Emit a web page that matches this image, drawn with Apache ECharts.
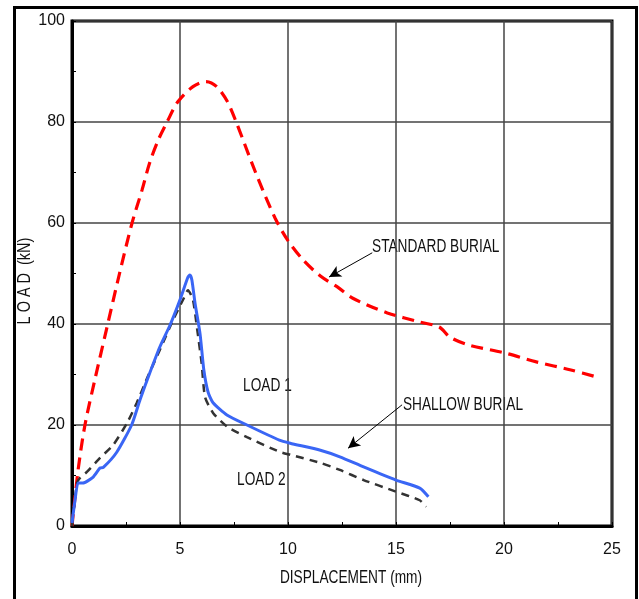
<!DOCTYPE html>
<html>
<head>
<meta charset="utf-8">
<script src="https://cdn.jsdelivr.net/npm/echarts@6/dist/echarts.min.js"></script>
<style>html,body{margin:0;padding:0;background:#fff}#c{width:639px;height:599px}</style>
</head>
<body>
<div id="c"></div>
<script>
// ---- data (displacement mm, load kN) ----
const xTicks = [0, 5, 10, 15, 20, 25];
const yTicks = [0, 20, 40, 60, 80, 100];

const standardX = [0, 0.28, 0.6, 1.06, 1.6, 2.2, 2.78, 3.24, 3.6, 4.0, 4.4, 4.9, 5.6, 6.2, 6.7, 7.2, 7.6, 8.5, 9.4, 10.0, 10.7, 11.5, 12.3, 13.0, 14.6, 16.1, 17.0, 17.5, 18.4, 20.0, 21.5, 23.1, 24.3];
const standardY = [0, 11, 20, 29, 39, 50, 60, 66.5, 72, 76.5, 80, 84, 87, 88, 87, 84, 80, 70, 61, 56.5, 52.7, 49.5, 47.3, 45.1, 42.2, 40.4, 39.4, 37.4, 35.8, 34.3, 32.5, 30.9, 29.5];

const load1X = [0, 0.14, 0.28, 0.5, 0.98, 1.3, 1.45, 2.07, 2.76, 3.15, 3.6, 4.07, 4.54, 5.0, 5.37, 5.46, 5.55, 5.7, 5.93, 6.1, 6.3, 6.53, 7.17, 8.1, 9.6, 10.1, 11.5, 12.4, 13.5, 15.0, 16.1, 16.5];
const load1Y = [0.6, 5.1, 8.5, 8.5, 9.7, 11.5, 11.6, 14.6, 20, 25, 30.3, 35.5, 39.8, 44.8, 49.3, 49.7, 48.7, 44, 38, 31, 26.5, 24.4, 22, 20, 17, 16.4, 15, 13.7, 11.7, 9.1, 7.5, 5.8];

const load2X = [0, 0.23, 0.37, 0.69, 1.3, 1.9, 2.55, 3.0, 3.5, 4.07, 4.68, 5.14, 5.37, 5.6, 5.8, 6.0, 6.16, 6.53, 7.2, 8.1, 9.6, 10.1, 11.5, 12.4, 13.5, 15.0, 16.1, 16.4];
const load2Y = [0, 8.5, 9.5, 10.7, 13.5, 16, 20.4, 24.4, 29.5, 34.9, 40.8, 44.8, 46.7, 44.8, 38.8, 32.3, 25.5, 22.4, 19.6, 17.6, 14.7, 14.1, 12.5, 11.1, 9.1, 6.8, 5.1, 3.8];

// annotation labels and arrows (data coordinates)
const labelTexts = ['STANDARD BURIAL', 'SHALLOW BURIAL', 'LOAD 1', 'LOAD 2'];
const labelAt = [[13.89, 55.2], [15.32, 24.0], [7.92, 27.7], [7.64, 9.1]];
const arrowFrom = [[13.9, 54.1], [15.28, 24.0]];
const arrowTo = [[11.9, 49.3], [12.78, 15.4]];
const xName = 'DISPLACEMENT (mm)';
const yName = 'L O A D  (kN)';

const FONT = '"Liberation Sans", Arial, Helvetica, sans-serif';
const NARROW = 0.76;
const zip = (a, b) => a.map((v, i) => [v, b[i]]);

const chart = echarts.init(document.getElementById('c'), null, {renderer: 'canvas'});

const option = {
  animation: false,
  backgroundColor: '#fff',
  grid: {left: 72, top: 21, width: 540, height: 505, show: true, borderColor: '#000', borderWidth: 3, backgroundColor: 'transparent'},
  xAxis: {
    type: 'value', min: xTicks[0], max: xTicks[xTicks.length - 1], interval: 5,
    axisLine: {lineStyle: {color: '#000', width: 3}},
    axisTick: {show: true, inside: true, length: 4, lineStyle: {color: '#000', width: 1}},
    minorTick: {show: true, splitNumber: 2, length: 4, lineStyle: {color: '#000', width: 1}},
    axisLabel: {fontFamily: FONT, fontSize: 16, color: '#111', margin: 16},
    splitLine: {show: true, lineStyle: {color: '#444', width: 1.5}}
  },
  yAxis: {
    type: 'value', min: yTicks[0], max: yTicks[yTicks.length - 1], interval: 20,
    axisLine: {lineStyle: {color: '#000', width: 3}},
    axisTick: {show: true, inside: true, length: 4, lineStyle: {color: '#000', width: 1}},
    minorTick: {show: true, splitNumber: 2, length: 4, lineStyle: {color: '#000', width: 1}},
    axisLabel: {fontFamily: FONT, fontSize: 16, color: '#111', margin: 7, padding: [6, 0, 0, 0]},
    splitLine: {show: true, lineStyle: {color: '#444', width: 1.5}}
  },
  series: [
    {
      name: 'STANDARD BURIAL', type: 'line', data: zip(standardX, standardY), showSymbol: false, smooth: 0.3,
      lineStyle: {color: '#ff0000', width: 3.2, type: [12, 7]}, z: 3,
      markLine: {
        silent: true, animation: false,
        lineStyle: {color: '#000', width: 1, type: 'solid'},
        label: {show: false},
        symbol: ['none', 'arrow'], symbolSize: [9, 12],
        data: arrowFrom.map((f, i) => [{coord: f}, {coord: arrowTo[i]}])
      }
    },
    {
      name: 'LOAD 1', type: 'line', data: zip(load1X, load1Y), showSymbol: false, smooth: 0.2,
      lineStyle: {color: '#3a66f5', width: 3}, z: 4
    },
    {
      name: 'LOAD 2', type: 'line', data: zip(load2X, load2Y), showSymbol: false, smooth: 0.2,
      lineStyle: {color: '#333', width: 2.5, type: [8, 6]}, z: 3
    }
  ],
  graphic: [
    {type: 'rect', left: 12, top: 5, shape: {width: 622, height: 620}, style: {fill: 'none', stroke: '#000', lineWidth: 3}, silent: true}
  ]
};
chart.setOption(option);

const texts = labelTexts.map((t, i) => {
  const p = chart.convertToPixel({gridIndex: 0}, labelAt[i]);
  return {type: 'text', x: p[0], y: p[1], scaleX: NARROW,
    style: {text: t, fontFamily: FONT, fontSize: 18, fill: '#111', verticalAlign: 'middle', align: 'left'}, silent: true};
});
// axis titles (narrow type, like the original)
const xMid = chart.convertToPixel({gridIndex: 0}, [12.5, 0]);
const yMid = chart.convertToPixel({gridIndex: 0}, [0, 48.5]);
texts.push({type: 'text', x: xMid[0] + 9, y: 578, scaleX: NARROW,
  style: {text: xName, fontFamily: FONT, fontSize: 18, fill: '#111', verticalAlign: 'middle', align: 'center'}, silent: true});
texts.push({type: 'text', x: 25, y: yMid[1], rotation: Math.PI / 2, scaleX: NARROW,
  style: {text: yName, fontFamily: FONT, fontSize: 19, fill: '#111', verticalAlign: 'middle', align: 'center'}, silent: true});
chart.setOption({graphic: option.graphic.concat(texts)});
</script>
</body>
</html>
